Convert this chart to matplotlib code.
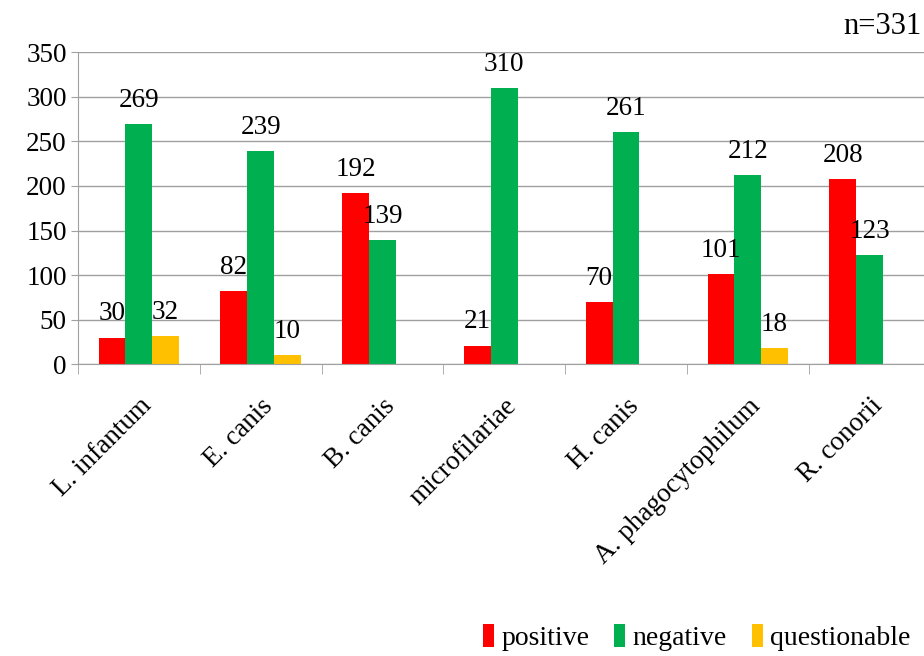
import matplotlib.pyplot as plt
import numpy as np

plt.rcParams["font.family"] = ["Liberation Serif", "DejaVu Serif"]

categories = [
    "L. infantum",
    "E. canis",
    "B. canis",
    "microfilariae",
    "H. canis",
    "A. phagocytophilum",
    "R. conorii",
]
positive = [30, 82, 192, 21, 70, 101, 208]
negative = [269, 239, 139, 310, 261, 212, 123]
questionable = [32, 10, 0, 0, 0, 18, 0]

series = [
    ("positive", positive, "#ff0000"),
    ("negative", negative, "#00b050"),
    ("questionable", questionable, "#ffc000"),
]

fig = plt.figure(figsize=(9.24, 6.56), dpi=100)
ax = fig.add_axes([0.0844, 0.4447, 0.9225, 0.4756])

x = np.arange(len(categories))
width = 0.22
for k, (name, vals, color) in enumerate(series):
    pos = x + (k - 1) * width
    ax.bar(pos, vals, width, color=color, label=name, zorder=2)
    for xi, v in zip(pos, vals):
        if v > 0:
            ax.annotate(str(v), xy=(xi, v), xytext=(0, 8),
                        textcoords="offset points", ha="center", va="bottom",
                        fontsize=19.5)

ax.set_xlim(-0.5, len(categories) - 0.5)
ax.set_ylim(0, 350)
ax.set_yticks(range(0, 351, 50))
ax.tick_params(axis="y", labelsize=19.5, length=5, color="#a0a0a0", pad=3)
ax.yaxis.grid(True, color="#a0a0a0", linewidth=1)
ax.set_axisbelow(True)

ax.set_xticks(np.arange(len(categories) + 1) - 0.5, minor=True)
ax.set_xticks(x)
ax.set_xticklabels(categories, rotation=45, ha="right", rotation_mode="anchor",
                   fontsize=19.5)
ax.tick_params(axis="x", which="major", length=0, pad=21)
ax.tick_params(axis="x", which="minor", length=7, color="#a0a0a0")

for side in ["top", "right"]:
    ax.spines[side].set_visible(False)
for side in ["left", "bottom"]:
    ax.spines[side].set_color("#a0a0a0")

fig.text(0.997, 0.96, "n=331", ha="right", va="center", fontsize=22)

fig.legend(loc="lower right", bbox_to_anchor=(1.012, -0.03), ncol=3,
           frameon=False, fontsize=20, handlelength=0.4, handleheight=0.9,
           handletextpad=0.25, columnspacing=0.9)

fig.savefig("out.png", dpi=100)
